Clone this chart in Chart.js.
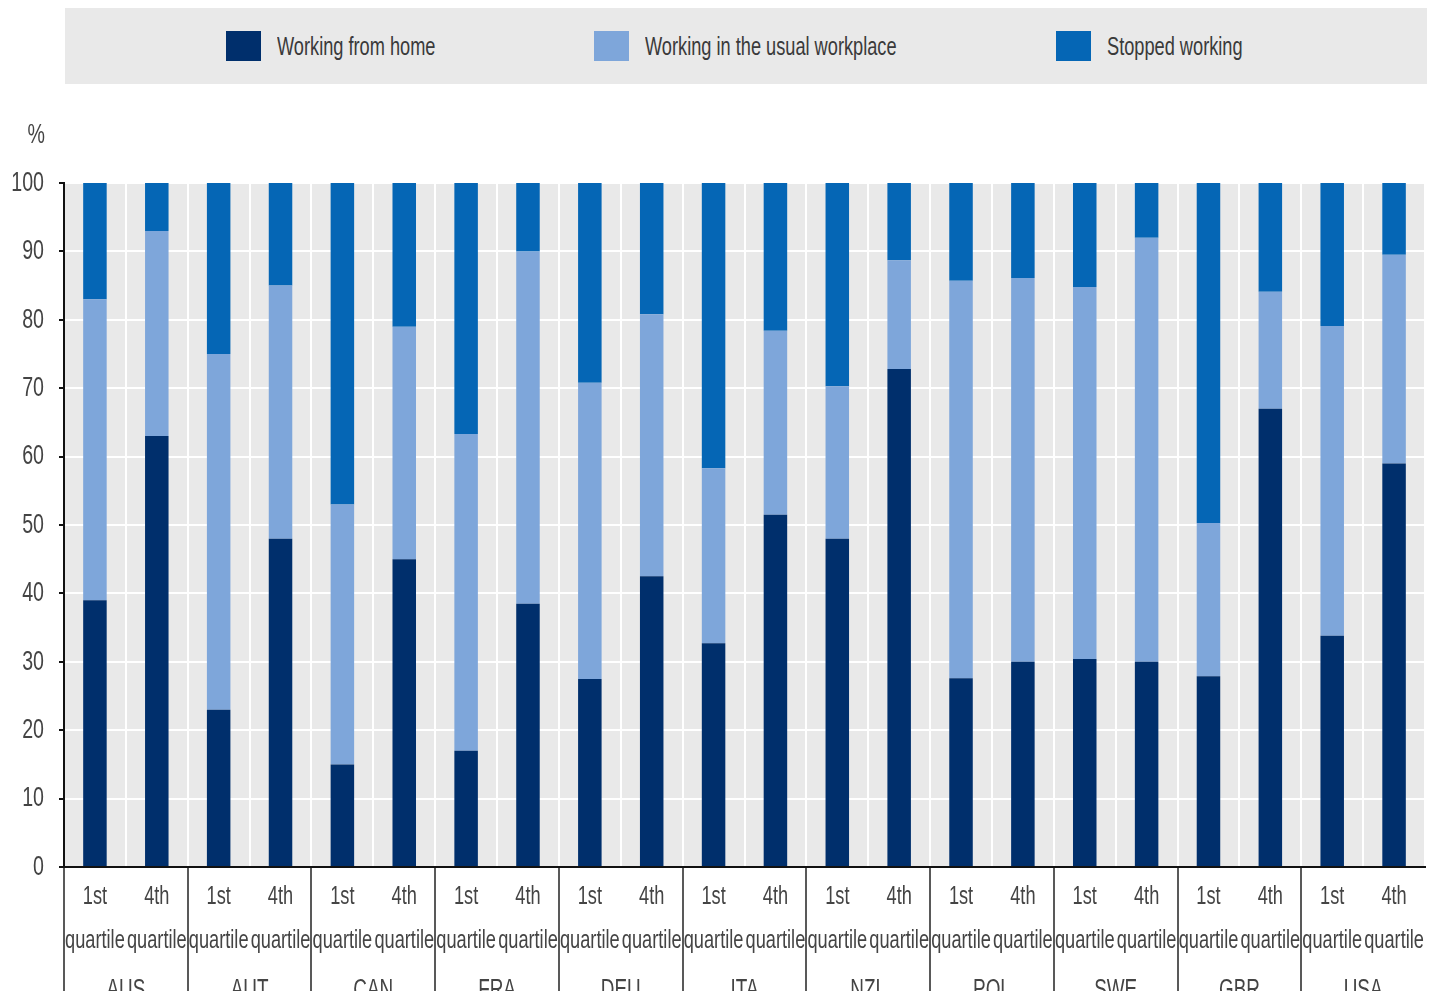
<!DOCTYPE html>
<html>
<head>
<meta charset="utf-8">
<script src="https://cdn.jsdelivr.net/npm/chart.js@4"></script>
<style>
  html, body { margin:0; padding:0; background:#fff; width:1437px; height:991px; overflow:hidden; }
  #clip { position:absolute; left:0; top:0; width:1437px; height:991px; overflow:hidden; }
  #wrap { position:absolute; left:0; top:0; width:1437px; height:1030px; }
  #legend { position:absolute; left:65px; top:8px; width:1362px; height:76px; background:#e9e9e9; z-index:2; }
  .li { position:absolute; top:0; height:76px; display:flex; align-items:center; font-family:"Liberation Sans",Arial,sans-serif; font-size:26px; color:#3a3a3a; white-space:nowrap; }
  .sw { width:35px; height:30px; margin-right:16px; flex:none; }
  .tx { display:inline-block; transform:scaleX(0.7); transform-origin:left center; }
</style>
</head>
<body>
<div id="clip">
  <div id="wrap"><canvas id="c"></canvas></div>
  <div id="legend"></div>
</div>
<script>
const countries = ["AUS","AUT","CAN","FRA","DEU","ITA","NZL","POL","SWE","GBR","USA"];
const quartileLabels = [["1st","quartile"],["4th","quartile"]];
const seriesNames = ["Working from home","Working in the usual workplace","Stopped working"];
const yTicks = [0,10,20,30,40,50,60,70,80,90,100];

// values per bar: AUS 1st, AUS 4th, AUT 1st, AUT 4th, ...
const workingFromHome = [39.0,63.0,23.0,48.0,15.0,45.0,17.0,38.5,27.5,42.5,32.7,51.5,48.0,72.8,27.6,30.0,30.4,30.0,27.9,67.0,33.8,59.0];
const usualWorkplace  = [44.0,30.0,52.0,37.0,38.0,34.0,46.3,51.5,43.3,38.3,25.6,26.9,22.3,15.9,58.1,56.1,54.4,62.0,22.4,17.1,45.3,30.5];
const stoppedWorking  = [17.0, 7.0,25.0,15.0,47.0,21.0,36.7,10.0,29.2,19.2,41.7,21.6,29.7,11.3,14.3,13.9,15.2, 8.0,49.7,15.9,20.9,10.5];

const colors = ["#002f6c","#7ea6da","#0566b5"];
const FONT = '"Liberation Sans",Arial,sans-serif';
const NARROW = 0.7; // horizontal condensing of all canvas text (narrow typeface look)

const labels = [];
countries.forEach(() => quartileLabels.forEach(q => labels.push(q)));

const canvas = document.getElementById('c');
const c2d = canvas.getContext('2d');
const origFill = c2d.fillText.bind(c2d);
c2d.fillText = function(text, x, y, maxWidth) {
  const w = this.measureText(text).width * NARROW;
  return origFill(text, x, y, maxWidth === undefined ? w : Math.min(w, maxWidth));
};

const bgPlugin = {
  id: 'bg',
  beforeDraw(chart) {
    const {ctx, chartArea:a} = chart;
    ctx.save();
    ctx.fillStyle = '#fff';
    ctx.fillRect(0,0,chart.width,chart.height);
    ctx.fillStyle = '#e9e9e9';
    ctx.fillRect(a.left, a.top, a.right-a.left, a.bottom-a.top);
    ctx.restore();
  },
  afterDraw(chart) {
    const {ctx, chartArea:a} = chart;
    const y = chart.scales.y;
    ctx.save();
    ctx.font = '28px ' + FONT;
    ctx.fillStyle = '#444';
    ctx.textAlign = 'right';
    ctx.textBaseline = 'middle';
    ctx.fillText('%', y.right - 19, a.top - 48);
    ctx.restore();
  }
};

const chart = new Chart(canvas, {
  type: 'bar',
  data: {
    labels: labels,
    datasets: [
      {label: seriesNames[0], data: workingFromHome, backgroundColor: colors[0]},
      {label: seriesNames[1], data: usualWorkplace, backgroundColor: colors[1]},
      {label: seriesNames[2], data: stoppedWorking, backgroundColor: colors[2]}
    ]
  },
  options: {
    responsive: true,
    maintainAspectRatio: false,
    animation: false,
    datasets: { bar: { barPercentage: 0.38, categoryPercentage: 1.0, borderWidth: 0 } },
    layout: { padding: { top: 183, right: 12, left: 0, bottom: 0 } },
    plugins: { legend: { display: false }, tooltip: { enabled: false } },
    scales: {
      x: {
        stacked: true,
        offset: true,
        grid: {
          offset: true,
          color: '#ffffff',
          lineWidth: 2,
          tickLength: 135,
          tickWidth: 1.5,
          tickColor: (ctx) => (ctx.index % 2 === 0 ? '#222' : 'rgba(0,0,0,0)')
        },
        border: { display: true, color: '#111', width: 2 },
        ticks: {
          autoSkip: false, maxRotation: 0, minRotation: 0,
          padding: -127,
          color: '#444',
          font: { family: FONT, size: 26, lineHeight: 1.69 }
        },
        afterFit: (s) => { s.height = 100; }
      },
      x2: {
        type: 'category',
        labels: countries,
        position: 'bottom',
        offset: true,
        grid: { display: false, drawTicks: false },
        border: { display: false },
        ticks: {
          autoSkip: false, maxRotation: 0, minRotation: 0,
          padding: 7,
          color: '#444',
          font: { family: FONT, size: 27, lineHeight: 1.2 }
        },
        afterFit: (s) => { s.height = 63; }
      },
      y: {
        stacked: true,
        min: 0, max: 100,
        afterBuildTicks: (s) => { s.ticks = yTicks.map(v => ({value: v})); },
        grid: { color: '#ffffff', lineWidth: 2, tickLength: 5, tickWidth: 2, tickColor: '#111' },
        border: { display: true, color: '#111', width: 2 },
        ticks: {
          padding: 15,
          color: '#444',
          font: { family: FONT, size: 28 }
        },
        afterFit: (s) => { s.width = 64; }
      }
    }
  },
  plugins: [bgPlugin]
});

// HTML legend built from the chart's datasets
const legendEl = document.getElementById('legend');
const legendLeft = [161, 529, 991];
chart.data.datasets.forEach((ds, i) => {
  const item = document.createElement('div');
  item.className = 'li';
  item.style.left = legendLeft[i] + 'px';
  const sw = document.createElement('span');
  sw.className = 'sw';
  sw.style.background = ds.backgroundColor;
  const tx = document.createElement('span');
  tx.className = 'tx';
  tx.textContent = ds.label;
  item.appendChild(sw);
  item.appendChild(tx);
  legendEl.appendChild(item);
});
</script>
</body>
</html>
